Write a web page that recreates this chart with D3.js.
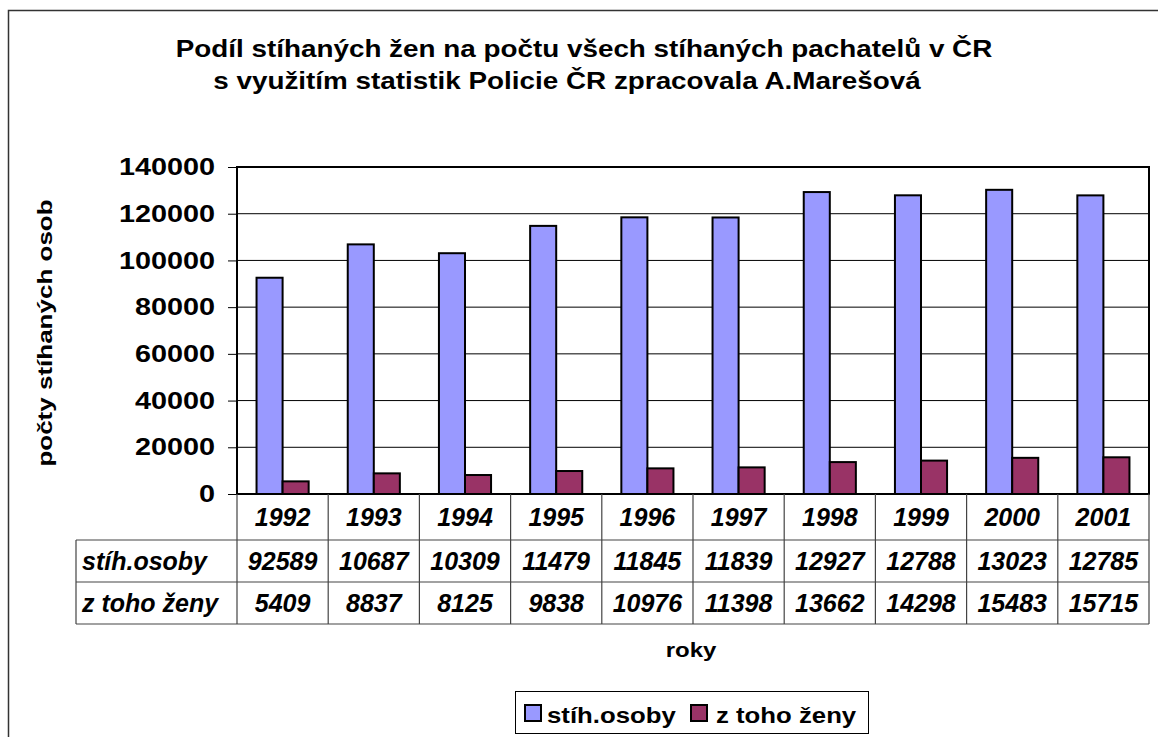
<!DOCTYPE html>
<html><head><meta charset="utf-8">
<script src="https://cdn.jsdelivr.net/npm/d3@7"></script>
<style>
body{margin:0;background:#fff}
text{font-family:"Liberation Sans",Arial,sans-serif;font-weight:bold;fill:#000}
</style>
</head><body>
<svg id="c" width="1158" height="737"></svg>
<script>
const titleLines = ["Podíl stíhaných žen na počtu všech stíhaných pachatelů v ČR", "s využitím statistik Policie ČR zpracovala A.Marešová"];
const years = ["1992","1993","1994","1995","1996","1997","1998","1999","2000","2001"];
const seriesNames = ["stíh.osoby", "z toho ženy"];
const stihOsoby = [92589,106870,103090,114790,118450,118390,129270,127880,130230,127850];
const zToHoZeny = [5409,8837,8125,9838,10976,11398,13662,14298,15483,15715];
const yTicks = [0,20000,40000,60000,80000,100000,120000,140000];
const colors = ["#9999FF","#993366"];
const yTitle = "počty stíhaných osob";
const xTitle = "roky";

const svg = d3.select("#c");
const L = 237, R = 1149, T = 167, B = 494;
const rowH = [46, 42, 42];
const tableLeft = 76;

function stext(g, x, y, sx, size, str, anchor, rot, italic){
  const t = g.append("text")
    .attr("transform", `translate(${x},${y})` + (rot?` rotate(${rot})`:"") + ` scale(${sx},1)`)
    .attr("text-anchor", anchor||"start").style("font-size", size+"px").text(str);
  if (italic) t.style("font-style","italic");
  return t;
}

// outer border
svg.append("rect").attr("x",8.5).attr("y",10.5).attr("width",1160).attr("height",740)
  .attr("fill","none").attr("stroke","#333").attr("stroke-width",1.5);

// title
stext(svg, 584, 57, 1.16, 24, titleLines[0], "middle");
stext(svg, 567, 89, 1.16, 24, titleLines[1], "middle");

const x = d3.scaleBand().domain(years).range([L,R]).paddingInner(0).paddingOuter(0);
const x1 = d3.scaleBand().domain([0,1]).range([0, x.bandwidth()]).paddingOuter(0.75).paddingInner(0);
const y = d3.scaleLinear().domain([0,140000]).range([B,T]);

// gridlines
svg.append("g").selectAll("line").data(yTicks.filter(v=>v>0 && v<140000)).join("line")
  .attr("x1",L).attr("x2",R).attr("y1",d=>y(d)).attr("y2",d=>y(d))
  .attr("stroke","#000").attr("stroke-width",1);

// y axis
const yAxis = d3.axisLeft(y).tickValues(yTicks).tickSize(9).tickPadding(13).tickFormat(d3.format("d"));
const gy = svg.append("g").attr("transform",`translate(${L},0)`).call(yAxis);
gy.select(".domain").remove();
gy.selectAll(".tick line").attr("stroke","#000").attr("stroke-width",1);
gy.selectAll(".tick text").style("font-size","24px").attr("fill","#000")
  .style("font-family","'Liberation Sans',Arial,sans-serif").style("font-weight","bold")
  .attr("x",0).attr("transform","translate(-22,0) scale(1.2,1)");

// bars
const data = years.map((yr,i)=>({yr, vals:[stihOsoby[i], zToHoZeny[i]]}));
const groups = svg.append("g").selectAll("g").data(data).join("g")
  .attr("transform",d=>`translate(${x(d.yr)},0)`);
groups.selectAll("rect").data(d=>d.vals.map((v,k)=>({v,k}))).join("rect")
  .attr("x",d=>x1(d.k)).attr("width",x1.bandwidth())
  .attr("y",d=>y(d.v)).attr("height",d=>B-y(d.v))
  .attr("fill",d=>colors[d.k]).attr("stroke","#000").attr("stroke-width",2);

// plot frame
svg.append("rect").attr("x",L).attr("y",T).attr("width",R-L).attr("height",B-T)
  .attr("fill","none").attr("stroke","#000").attr("stroke-width",2);

// data table
const tb = svg.append("g");
const r1 = B, r2 = B+rowH[0], r3 = r2+rowH[1], r4 = r3+rowH[2];
const gridC = "#444";
[r2, r3, r4].forEach(ry=>{
  tb.append("line").attr("x1",tableLeft).attr("x2",R).attr("y1",ry).attr("y2",ry).attr("stroke",gridC).attr("stroke-width",1.2);
});
tb.append("line").attr("x1",tableLeft).attr("x2",tableLeft).attr("y1",r2).attr("y2",r4).attr("stroke",gridC).attr("stroke-width",1.2);
const vx = years.map(d=>x(d)).concat([R]);
tb.selectAll("line.v").data(vx).join("line").attr("class","v")
  .attr("x1",d=>d).attr("x2",d=>d).attr("y1",r1).attr("y2",r4).attr("stroke",gridC).attr("stroke-width",1.2);
const tfs = "25px";
tb.selectAll("text.yr").data(years).join("text").attr("class","yr")
  .attr("x",d=>x(d)+x.bandwidth()/2).attr("y",r1+rowH[0]/2+9)
  .attr("text-anchor","middle").style("font-size",tfs).style("font-style","italic").text(d=>d);
[stihOsoby, zToHoZeny].forEach((arr,k)=>{
  const ry = (k===0? r2 : r3) + rowH[k+1]/2 + 9;
  tb.append("text").attr("x",tableLeft+6).attr("y",ry).style("font-size",tfs).style("font-style","italic").text(seriesNames[k]);
  tb.selectAll("text.s"+k).data(arr).join("text").attr("class","s"+k)
    .attr("x",(d,i)=>x(years[i])+x.bandwidth()/2).attr("y",ry)
    .attr("text-anchor","middle").style("font-size",tfs).style("font-style","italic")
    .text(d=>String(d))
    .each(function(d){
      const el = d3.select(this);
      let s = String(d);
      const maxW = x.bandwidth()-10;
      while (this.getComputedTextLength() > maxW && s.length>1) { s = s.slice(0,-1); el.text(s); }
    });
});

// axis titles
stext(svg, 52, 333, 1.3, 20, yTitle, "middle", -90);
stext(svg, 691, 657, 1.2, 20, xTitle, "middle");

// legend
const lg = svg.append("g");
lg.append("rect").attr("x",515.5).attr("y",691.5).attr("width",353).attr("height",42)
  .attr("fill","#fff").attr("stroke","#000").attr("stroke-width",1);
const legX = [525, 691];
const legTX = [547, 716];
seriesNames.forEach((n,k)=>{
  lg.append("rect").attr("x",legX[k]).attr("y",705).attr("width",16).attr("height",16)
    .attr("fill",colors[k]).attr("stroke","#000").attr("stroke-width",2);
  stext(lg, legTX[k], 723, 1.12, 23, n, "start");
});
</script>
</body></html>
